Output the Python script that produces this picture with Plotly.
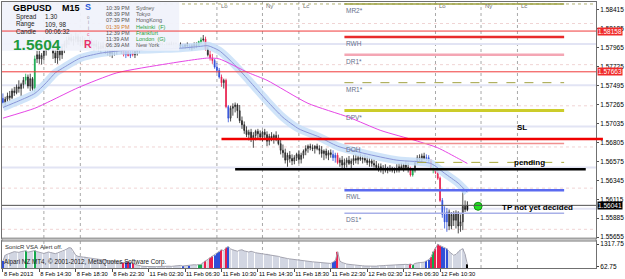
import plotly.graph_objects as go

FONT = "Liberation Sans, Arial, sans-serif"

# ---------------- data ----------------
bars = list(range(205))  # M15 bars, 8 Feb 10:30 .. 12 Feb 13:30

opens = [
 1.5734,1.5729,1.5733,1.5737,1.5735,1.5743,1.5741,1.5748,1.5746,1.5751,
 1.5756,1.5760,1.5749,1.5758,1.5746,1.5782,1.5787,1.5782,1.5786,1.5792,
 1.5795,1.5800,1.5798,1.5789,1.5783,1.5792,1.5787,1.5797,1.5800,1.5805,
 1.5808,1.5804,1.5806,1.5809,1.5803,1.5805,1.5802,1.5799,1.5804,1.5802,
 1.5798,1.5800,1.5797,1.5794,1.5798,1.5795,1.5792,1.5794,1.5788,1.5793,
 1.5791,1.5795,1.5798,1.5792,1.5787,1.5791,1.5786,1.5789,1.5787,1.5791,
 1.5793,1.5795,1.5797,1.5798,1.5797,1.5799,1.5798,1.5800,1.5799,1.5798,
 1.5799,1.5797,1.5799,1.5798,1.5800,1.5799,1.5798,1.5797,1.5799,1.5798,
 1.5797,1.5799,1.5798,1.5795,1.5798,1.5799,1.5798,1.5803,1.5805,1.5806,
 1.5794,1.5787,1.5783,1.5780,1.5772,1.5768,1.5760,1.5753,1.5756,1.5724,
 1.5710,1.5722,1.5724,1.5726,1.5719,1.5707,1.5702,1.5695,1.5690,1.5693,
 1.5684,1.5689,1.5694,1.5691,1.5687,1.5693,1.5690,1.5682,1.5688,1.5685,
 1.5689,1.5684,1.5679,1.5671,1.5668,1.5659,1.5665,1.5661,1.5658,1.5662,
 1.5666,1.5660,1.5665,1.5670,1.5673,1.5676,1.5674,1.5673,1.5676,1.5673,
 1.5671,1.5667,1.5670,1.5665,1.5668,1.5666,1.5662,1.5665,1.5656,1.5659,
 1.5653,1.5656,1.5659,1.5655,1.5658,1.5661,1.5659,1.5662,1.5660,1.5661,
 1.5659,1.5656,1.5658,1.5655,1.5653,1.5650,1.5651,1.5648,1.5649,1.5647,
 1.5649,1.5648,1.5647,1.5649,1.5647,1.5651,1.5649,1.5653,1.5650,1.5648,
 1.5641,1.5647,1.5656,1.5662,1.5660,1.5664,1.5661,1.5662,1.5658,1.5650,
 1.5648,1.5644,1.5637,1.5610,1.5593,1.5584,1.5596,1.5579,1.5593,1.5586,
 1.5595,1.5579,1.5584,1.5603,1.5599]
highs = [
 1.5740,1.5736,1.5741,1.5743,1.5746,1.5748,1.5751,1.5756,1.5753,1.5760,
 1.5764,1.5763,1.5764,1.5760,1.5786,1.5792,1.5792,1.5789,1.5795,1.5799,
 1.5804,1.5806,1.5802,1.5795,1.5794,1.5797,1.5800,1.5804,1.5809,1.5811,
 1.5812,1.5810,1.5814,1.5812,1.5809,1.5810,1.5808,1.5806,1.5809,1.5806,
 1.5804,1.5805,1.5803,1.5802,1.5803,1.5800,1.5799,1.5800,1.5797,1.5799,
 1.5798,1.5802,1.5800,1.5797,1.5794,1.5795,1.5793,1.5794,1.5792,1.5795,
 1.5798,1.5799,1.5800,1.5802,1.5800,1.5802,1.5802,1.5803,1.5803,1.5802,
 1.5802,1.5800,1.5802,1.5802,1.5803,1.5802,1.5802,1.5800,1.5802,1.5800,
 1.5800,1.5802,1.5800,1.5800,1.5802,1.5802,1.5804,1.5808,1.5811,1.5809,
 1.5797,1.5792,1.5788,1.5782,1.5777,1.5771,1.5763,1.5758,1.5758,1.5726,
 1.5725,1.5728,1.5729,1.5728,1.5726,1.5712,1.5706,1.5700,1.5696,1.5697,
 1.5693,1.5696,1.5697,1.5695,1.5695,1.5697,1.5694,1.5691,1.5693,1.5691,
 1.5694,1.5690,1.5684,1.5678,1.5673,1.5668,1.5670,1.5666,1.5665,1.5668,
 1.5671,1.5668,1.5672,1.5677,1.5678,1.5679,1.5678,1.5677,1.5679,1.5677,
 1.5676,1.5672,1.5673,1.5671,1.5672,1.5671,1.5668,1.5668,1.5662,1.5664,
 1.5661,1.5662,1.5664,1.5661,1.5665,1.5666,1.5665,1.5667,1.5665,1.5666,
 1.5664,1.5662,1.5661,1.5660,1.5658,1.5655,1.5655,1.5653,1.5654,1.5651,
 1.5653,1.5651,1.5650,1.5654,1.5655,1.5656,1.5655,1.5658,1.5656,1.5651,
 1.5649,1.5659,1.5665,1.5666,1.5667,1.5668,1.5666,1.5665,1.5660,1.5653,
 1.5650,1.5647,1.5639,1.5613,1.5603,1.5601,1.5599,1.5596,1.5597,1.5598,
 1.5597,1.5593,1.5625,1.5610,1.5609]
lows = [
 1.5727,1.5725,1.5730,1.5731,1.5733,1.5737,1.5739,1.5741,1.5737,1.5746,
 1.5751,1.5746,1.5743,1.5743,1.5741,1.5777,1.5776,1.5775,1.5780,1.5786,
 1.5792,1.5794,1.5782,1.5777,1.5776,1.5780,1.5782,1.5789,1.5795,1.5799,
 1.5802,1.5798,1.5802,1.5799,1.5797,1.5798,1.5795,1.5794,1.5798,1.5794,
 1.5792,1.5793,1.5791,1.5789,1.5792,1.5788,1.5786,1.5785,1.5783,1.5786,
 1.5787,1.5791,1.5788,1.5785,1.5783,1.5785,1.5783,1.5785,1.5783,1.5786,
 1.5789,1.5792,1.5793,1.5794,1.5793,1.5795,1.5794,1.5797,1.5795,1.5794,
 1.5795,1.5794,1.5795,1.5794,1.5797,1.5795,1.5794,1.5794,1.5795,1.5794,
 1.5794,1.5795,1.5793,1.5792,1.5794,1.5795,1.5797,1.5800,1.5803,1.5792,
 1.5785,1.5780,1.5776,1.5770,1.5765,1.5758,1.5748,1.5746,1.5722,1.5705,
 1.5706,1.5713,1.5717,1.5710,1.5704,1.5697,1.5691,1.5687,1.5683,1.5681,
 1.5674,1.5683,1.5685,1.5683,1.5682,1.5685,1.5676,1.5677,1.5682,1.5679,
 1.5682,1.5677,1.5666,1.5662,1.5655,1.5651,1.5656,1.5653,1.5654,1.5658,
 1.5655,1.5655,1.5661,1.5665,1.5668,1.5671,1.5670,1.5667,1.5671,1.5666,
 1.5662,1.5659,1.5661,1.5659,1.5662,1.5658,1.5656,1.5654,1.5651,1.5649,
 1.5647,1.5650,1.5653,1.5649,1.5653,1.5655,1.5654,1.5658,1.5655,1.5656,
 1.5653,1.5651,1.5651,1.5650,1.5647,1.5645,1.5644,1.5642,1.5644,1.5643,
 1.5645,1.5644,1.5643,1.5644,1.5644,1.5647,1.5645,1.5647,1.5644,1.5639,
 1.5639,1.5644,1.5654,1.5658,1.5656,1.5659,1.5658,1.5655,1.5649,1.5643,
 1.5642,1.5635,1.5608,1.5589,1.5576,1.5572,1.5574,1.5575,1.5579,1.5576,
 1.5570,1.5572,1.5574,1.5596,1.5597]
closes = [
 1.5729,1.5733,1.5737,1.5735,1.5743,1.5741,1.5748,1.5746,1.5751,1.5756,
 1.5760,1.5749,1.5758,1.5746,1.5782,1.5787,1.5782,1.5786,1.5792,1.5795,
 1.5800,1.5798,1.5789,1.5783,1.5792,1.5787,1.5797,1.5800,1.5805,1.5808,
 1.5804,1.5806,1.5809,1.5803,1.5805,1.5802,1.5799,1.5804,1.5802,1.5798,
 1.5800,1.5797,1.5794,1.5798,1.5795,1.5792,1.5794,1.5788,1.5793,1.5791,
 1.5795,1.5798,1.5792,1.5787,1.5791,1.5786,1.5789,1.5787,1.5791,1.5793,
 1.5795,1.5797,1.5798,1.5797,1.5799,1.5798,1.5800,1.5799,1.5798,1.5799,
 1.5797,1.5799,1.5798,1.5800,1.5799,1.5798,1.5797,1.5799,1.5798,1.5797,
 1.5799,1.5798,1.5795,1.5798,1.5799,1.5798,1.5803,1.5805,1.5806,1.5794,
 1.5787,1.5783,1.5780,1.5772,1.5768,1.5760,1.5753,1.5756,1.5724,1.5710,
 1.5722,1.5724,1.5726,1.5719,1.5707,1.5702,1.5695,1.5690,1.5693,1.5684,
 1.5689,1.5694,1.5691,1.5687,1.5693,1.5690,1.5682,1.5688,1.5685,1.5689,
 1.5684,1.5679,1.5671,1.5668,1.5659,1.5665,1.5661,1.5658,1.5662,1.5666,
 1.5660,1.5665,1.5670,1.5673,1.5676,1.5674,1.5673,1.5676,1.5673,1.5671,
 1.5667,1.5670,1.5665,1.5668,1.5666,1.5662,1.5665,1.5656,1.5659,1.5653,
 1.5656,1.5659,1.5655,1.5658,1.5661,1.5659,1.5662,1.5660,1.5661,1.5659,
 1.5656,1.5658,1.5655,1.5653,1.5650,1.5651,1.5648,1.5649,1.5647,1.5649,
 1.5648,1.5647,1.5649,1.5647,1.5651,1.5649,1.5653,1.5650,1.5648,1.5641,
 1.5647,1.5656,1.5662,1.5660,1.5664,1.5661,1.5662,1.5658,1.5650,1.5648,
 1.5644,1.5637,1.5610,1.5593,1.5584,1.5596,1.5579,1.5593,1.5586,1.5595,
 1.5579,1.5584,1.5603,1.5599,1.5604]
volumes = [
 390,700,760,820,850,900,880,860,900,930,
 950,870,900,940,960,900,860,820,800,840,
 880,850,820,790,830,870,900,980,1040,1120,
 1100,900,700,640,620,600,620,580,540,520,
 500,480,470,460,440,420,400,390,370,350,
 330,320,300,300,330,350,300,280,200,160,
 120,100,90,80,70,62.75,70,70,80,90,
 70,80,90,100,90,110,120,110,140,110,
 130,150,130,160,180,170,190,200,300,390,
 450,560,640,700,830,900,1000,950,1120,1170,
 1050,1000,950,920,980,1000,940,900,880,920,
 870,840,820,800,780,760,780,740,700,680,
 660,640,600,560,540,520,500,480,470,450,
 440,420,400,380,370,350,340,330,320,300,
 290,280,270,260,250,330,400,890,380,300,
 250,220,200,180,160,150,140,130,120,110,
 100,90,100,110,100,120,110,130,140,150,
 160,170,160,180,190,200,210,200,190,220,
 170,250,280,300,290,320,390,450,600,890,
 1060,1317.75,1230,1170,1100,1060,900,820,700,750,
 900,1000,1060,750,200]

# VSA colouring of bars (indices)
blue_bars = [0, 54, 56, 79, 82, 93, 94, 95, 99, 145, 146, 186, 187, 193, 194, 195]
red_bars = [53, 55, 57, 89, 91, 92, 96, 98, 147, 179, 188, 190, 191, 192]
green_bars = [10, 14, 86, 87, 180, 189]
black_bars = [204]

# moving averages (bar index, price)
fast_ma_bars = [0,7,14,19,23,27,34,43,52,60,69,78,86,90,95,101,108,116,123,130,139,147,159,173,188,194,200,204]
fast_ma = [1.5723,1.5731,1.5740,1.5753,1.5765,1.5772,1.5783,1.5789,1.5792,1.5793,1.5794,1.5795,1.5797,1.5798,
           1.5792,1.5777,1.5756,1.5731,1.5711,1.5697,1.5687,1.5676,1.5667,1.5659,1.5655,1.5643,1.5631,1.5620]
slow_ma_bars = [0,14,21,33,50,72,90,95,108,116,134,152,166,181,191,200,204]
slow_ma = [1.5710,1.5722,1.5731,1.5747,1.5765,1.5776,1.5783,1.5782,1.5765,1.5756,1.5728,1.5711,1.5695,
           1.5683,1.5674,1.5661,1.5655]

# time axis
time_tick_bars = [0,16,32,48,64,80,96,112,128,144,160,176,192]
time_tick_text = ["8 Feb 2013","8 Feb 14:30","8 Feb 18:30","8 Feb 22:30","11 Feb 02:30","11 Feb 06:30",
                  "11 Feb 10:30","11 Feb 14:30","11 Feb 18:30","11 Feb 22:30","12 Feb 02:30","12 Feb 06:30",
                  "12 Feb 10:30"]
price_ticks = [1.55655,1.55885,1.56115,1.56345,1.56575,1.56805,1.57035,1.57265,1.57495,1.57725,1.57955,1.58185,1.58415]
price_tick_text = ["1.55655","1.55885","1.56115","1.56345","1.56575","1.56805","1.57035","1.57265","1.57495",
                   "1.57725","1.57965","1.58185","1.58415"]

# sessions (8 Feb labels are hidden behind the info panel)
session_bars = [18, 34, 94, 114, 130, 190, 210, 226]
session_names = ["Ny", "Lc", "Lo", "Ny", "Lc", "Lo", "Ny", "Lc"]
session_label_visible = [False, False, True, True, True, True, True, True]

# pivot levels of 12 Feb
pivot_names = ["MR2*", "RWH", "DR1*", "MR1*", "DPV*", "DOH", "RWL", "DS1*"]
pivot_prices = [1.58487, 1.58087, 1.57870, 1.57531, 1.57192, 1.56793, 1.56224, 1.55946]
pivot_start_bar = 150
pivot_end_bar = 246.5

round_levels = [1.5800, 1.5750, 1.5700, 1.5650, 1.5600]
quarter_levels = [1.5825, 1.5775, 1.5725, 1.5675, 1.5625, 1.5575]

red_alert_levels = [1.58158, 1.57663]
current_price = 1.56041
sl_price, sl_start_bar = 1.56847, 96
entry_price, entry_start_bar, entry_end_bar = 1.56478, 102, 256
pending_price, pending_start_bar = 1.56563, 182
tp_bar, tp_price = 208.7, 1.56030

# ---------------- figure ----------------
X_RANGE = [-0.4, 260.5]
Y_RANGE = [1.55643, 1.58511]
V_RANGE = [0, 1480]


def px_x(px):
    return (px - 1) / 600.0


def px_y(py):
    return (268 - py) / 267.0


code = ["n"] * len(bars)
for c, idx in (("b", blue_bars), ("r", red_bars), ("g", green_bars), ("k", black_bars)):
    for i in idx:
        code[i] = c
COL = {"n": "#303030", "b": "#2f4fd8", "r": "#e8204e", "g": "#12a84a", "k": "#000000"}
VCOL = {"n": "#d2d6e2", "b": "#2f4fd8", "r": "#e8204e", "g": "#12a84a", "k": "#000000"}

fig = go.Figure()

# wide light blue band + fast MA
fig.add_trace(go.Scatter(x=fast_ma_bars, y=fast_ma, mode="lines",
                         line=dict(color="rgba(200,223,248,0.85)", width=8, shape="spline", smoothing=0.6),
                         hoverinfo="skip", showlegend=False))

# candles per colour group
for c in ["n", "b", "r", "g", "k"]:
    o = [opens[i] if code[i] == c else None for i in bars]
    h = [highs[i] if code[i] == c else None for i in bars]
    l = [lows[i] if code[i] == c else None for i in bars]
    cl = [closes[i] if code[i] == c else None for i in bars]
    if c == "n":
        inc = dict(line=dict(color="#202020", width=0.8), fillcolor="#b4b4b4")
        dec = dict(line=dict(color="#202020", width=0.8), fillcolor="#404040")
    else:
        inc = dict(line=dict(color=COL[c], width=0.8), fillcolor=COL[c])
        dec = dict(line=dict(color=COL[c], width=0.8), fillcolor=COL[c])
    fig.add_trace(go.Candlestick(x=bars, open=o, high=h, low=l, close=cl, increasing=inc, decreasing=dec,
                                 whiskerwidth=0, showlegend=False, hoverinfo="skip", xaxis="x", yaxis="y"))

fig.add_trace(go.Scatter(x=fast_ma_bars, y=fast_ma, mode="lines",
                         line=dict(color="#8a96d8", width=1, shape="spline", smoothing=0.6),
                         hoverinfo="skip", showlegend=False))
fig.add_trace(go.Scatter(x=slow_ma_bars, y=slow_ma, mode="lines",
                         line=dict(color="#e646e6", width=1, shape="spline", smoothing=0.6),
                         hoverinfo="skip", showlegend=False))

# TP marker
fig.add_trace(go.Scatter(x=[tp_bar], y=[tp_price], mode="markers",
                         marker=dict(size=8, color="#22dd22", line=dict(color="#109010", width=1)),
                         hoverinfo="skip", showlegend=False))

# volume panel
fig.add_trace(go.Bar(x=bars, y=volumes, marker=dict(color=[VCOL[c] for c in code], line=dict(width=0)),
                     xaxis="x2", yaxis="y2", hoverinfo="skip", showlegend=False))
fig.add_trace(go.Scatter(x=bars, y=volumes, mode="lines", line=dict(color="#a4a4b0", width=1),
                         xaxis="x2", yaxis="y2", hoverinfo="skip", showlegend=False))

shapes = []
# below-trace background lines
for b in session_bars:
    shapes.append(dict(type="line", xref="x", yref="paper", x0=b, x1=b, y0=0, y1=1, layer="below",
                       line=dict(color="#a8a8a8", width=1, dash="dot")))
for lv in round_levels:
    shapes.append(dict(type="line", xref="paper", yref="y", x0=0, x1=1, y0=lv, y1=lv, layer="below",
                       line=dict(color="#e2e4f4", width=2)))
for lv in quarter_levels:
    shapes.append(dict(type="line", xref="paper", yref="y", x0=0, x1=1, y0=lv, y1=lv, layer="below",
                       line=dict(color="#f0d4d4", width=1, dash="dot")))
shapes.append(dict(type="line", xref="paper", yref="y", x0=0, x1=1, y0=pivot_prices[0], y1=pivot_prices[0],
                   layer="below", line=dict(color="#b0b070", width=1, dash="dot")))

# info box
shapes.append(dict(type="rect", xref="paper", yref="paper", x0=0, x1=px_x(180), y0=px_y(50), y1=1, layer="above",
                   fillcolor="rgba(240,242,251,0.94)", line=dict(width=0)))

# red alert lines
for lv in red_alert_levels:
    shapes.append(dict(type="line", xref="paper", yref="y", x0=0, x1=1, y0=lv, y1=lv, layer="above",
                       line=dict(color="#f03a3a", width=1)))
# current price line
shapes.append(dict(type="line", xref="paper", yref="y", x0=0, x1=1, y0=current_price, y1=current_price,
                   layer="above", line=dict(color="#505050", width=1)))

# pivot lines
pivot_styles = [
    dict(color="#9ca040", width=1.5),
    dict(color="#e82a2a", width=2.5),
    dict(color="#f4a6b4", width=2.5),
    dict(color="#a0a040", width=1, dash="dash"),
    dict(color="#cccc2a", width=3),
    dict(color="#f09090", width=1.5),
    dict(color="#5a6af0", width=2.5),
    dict(color="#a8b0e8", width=1.5),
]
for p, st in zip(pivot_prices, pivot_styles):
    shapes.append(dict(type="line", xref="x", yref="y", x0=pivot_start_bar, x1=pivot_end_bar, y0=p, y1=p,
                       layer="above", line=st))

# trade lines
shapes.append(dict(type="line", xref="x", yref="y", x0=pending_start_bar, x1=pivot_end_bar, y0=pending_price,
                   y1=pending_price, layer="above", line=dict(color="#a8a83a", width=1, dash="dash")))
shapes.append(dict(type="line", xref="x", yref="y", x0=sl_start_bar, x1=X_RANGE[1], y0=sl_price, y1=sl_price,
                   layer="above", line=dict(color="#f00000", width=2.5)))
shapes.append(dict(type="line", xref="paper", yref="y", x0=1, x1=px_x(608), y0=sl_price, y1=sl_price,
                   layer="above", line=dict(color="#f00000", width=2.5)))
shapes.append(dict(type="line", xref="x", yref="y", x0=entry_start_bar, x1=entry_end_bar, y0=entry_price,
                   y1=entry_price, layer="above", line=dict(color="#000000", width=2.5)))

# panel separator
shapes.append(dict(type="rect", xref="paper", yref="paper", x0=0, x1=1, y0=px_y(241), y1=px_y(238), layer="above",
                   fillcolor="#c4c4c4", line=dict(color="#8c8c8c", width=1)))

ann = []


def txt(s, px, py, size=6, color="#303030", bold=False, xanchor="left"):
    ann.append(dict(text=("<b>%s</b>" % s) if bold else s, x=px_x(px), y=px_y(py), xref="paper", yref="paper",
                    xanchor=xanchor, yanchor="middle", showarrow=False, borderpad=0,
                    font=dict(size=size, color=color, family=FONT)))


# info box texts
txt("GBPUSD", 11, 7.5, 9, "#000000", True)
txt("M15", 61, 7.5, 9, "#000000", True)
txt("Spread", 14, 16, 6.3, "#202020")
txt("1.30", 43, 16, 6.3, "#202020")
txt("Range", 14, 23.3, 6.3, "#202020")
txt("109, 98", 43, 23.3, 6.3, "#202020")
txt("Candle", 14, 30.5, 6.3, "#202020")
txt("00:06:32", 43, 30.5, 6.3, "#202020")
txt("1.5604", 11, 43.5, 15.5, "#1e9a3c", True)
txt("S", 88, 6.5, 9, "#2a5ad8", True, "center")
txt("o", 88, 16.5, 4.5, "#9090a0", False, "center")
txt("i", 88, 22, 4.5, "#9090a0", False, "center")
txt("i", 88, 27.5, 4.5, "#9090a0", False, "center")
txt("c", 88, 33, 5, "#e86090", False, "center")
txt("R", 88, 43, 10.5, "#e8306a", True, "center")
clock_rows = [("10:39 PM", "Sydney", "#505050", "#606060"),
              ("08:39 PM", "Tokyo", "#505050", "#606060"),
              ("07:39 PM", "HongKong", "#505050", "#606060"),
              ("01:39 PM", "Helsinki  (F)", "#d07a2a", "#2aa040"),
              ("12:39 PM", "Frankfurt", "#505050", "#2aa040"),
              ("11:39 AM", "London  (G)", "#505050", "#2aa040"),
              ("06:39 AM", "New York", "#505050", "#606060")]
clock_y = [6.7, 12.9, 19.2, 25.6, 31.9, 38.2, 44.5]
for (t, city, ct, cc), yy in zip(clock_rows, clock_y):
    txt(t, 105, yy, 5.5, ct)
    txt(city, 135, yy, 5.5, cc)

# session labels
for b, n, vis in zip(session_bars, session_names, session_label_visible):
    if not vis:
        continue
    ann.append(dict(text=n, x=b, y=px_y(5), xref="x", yref="paper", xanchor="left", yanchor="middle", xshift=2,
                    showarrow=False, font=dict(size=6, color="#707070", family=FONT)))
# pivot labels
for n, p in zip(pivot_names, pivot_prices):
    ann.append(dict(text=n, x=pivot_start_bar, y=p, xref="x", yref="y", xanchor="left", yanchor="top", yshift=-1,
                    showarrow=False, font=dict(size=6.5, color="#66708c", family=FONT)))

# trade labels
ann.append(dict(text="<b>SL</b>", x=228, y=sl_price, xref="x", yref="y", xanchor="center", yanchor="middle",
                yshift=11, showarrow=False, font=dict(size=8, color="#000000", family=FONT)))
ann.append(dict(text="<b>pending</b>", x=231.3, y=pending_price, xref="x", yref="y", xanchor="center",
                yanchor="middle", showarrow=False, font=dict(size=8, color="#000000", family=FONT)))
ann.append(dict(text="<b>TP not yet decided</b>", x=234.8, y=current_price, xref="x", yref="y", xanchor="center",
                yanchor="middle", yshift=-2, showarrow=False, font=dict(size=8, color="#000000", family=FONT)))

# right axis price boxes
for lv, bg in ((red_alert_levels[0], "#f02a2a"), (red_alert_levels[1], "#f02a2a"), (current_price, "#000000")):
    ann.append(dict(text="%.5f" % lv, x=1.0, y=lv, xref="paper", yref="y", xanchor="left", yanchor="middle",
                    xshift=1, showarrow=False, bgcolor=bg, borderpad=0,
                    font=dict(size=6.5, color="#ffffff", family=FONT)))

# indicator texts
txt("SonicR VSA", 3, 247, 6, "#303030")
txt("Alert off.", 38, 247, 6, "#303030")
txt("Alpari NZ MT4, \u00a9 2001-2012, MetaQuotes Software Corp.", 2, 262, 6.3, "#202020")

fig.update_layout(
    width=625, height=279, margin=dict(l=1, r=24, t=1, b=11),
    paper_bgcolor="#ffffff", plot_bgcolor="#ffffff",
    showlegend=False, bargap=0.45, boxgap=0.45,
    font=dict(family=FONT, size=6.5, color="#000000"),
    shapes=shapes, annotations=ann,
    xaxis=dict(domain=[0, 1], anchor="y", range=X_RANGE, showticklabels=False, showgrid=False, zeroline=False,
               showline=True, linecolor="#707070", mirror=True, rangeslider=dict(visible=False), fixedrange=True),
    yaxis=dict(domain=[px_y(238), 1], anchor="x", range=Y_RANGE, side="right", tickvals=price_ticks,
               ticktext=price_tick_text, ticks="outside", ticklen=2, tickcolor="#505050", showgrid=False,
               zeroline=False, showline=True, linecolor="#707070", mirror=True,
               tickfont=dict(size=6.5, color="#000000", family=FONT)),
    xaxis2=dict(domain=[0, 1], anchor="y2", range=X_RANGE, matches="x", tickvals=time_tick_bars,
                ticktext=time_tick_text, tickangle=0,
                ticklabelposition="outside right", ticks="outside", ticklen=3, tickcolor="#505050",
                showgrid=False, zeroline=False, showline=True, linecolor="#707070", mirror=True,
                tickfont=dict(size=5.8, color="#000000", family=FONT)),
    yaxis2=dict(domain=[0, px_y(241)], anchor="x2", range=V_RANGE, side="right", tickvals=[62.75, 1317.75],
                ticktext=["62.75", "1317.75"], ticks="outside", ticklen=2, showgrid=False, zeroline=False,
                showline=True, linecolor="#707070", mirror=True,
                tickfont=dict(size=6.5, color="#000000", family=FONT)),
)

fig.write_html("out.html", config={"displayModeBar": False})
